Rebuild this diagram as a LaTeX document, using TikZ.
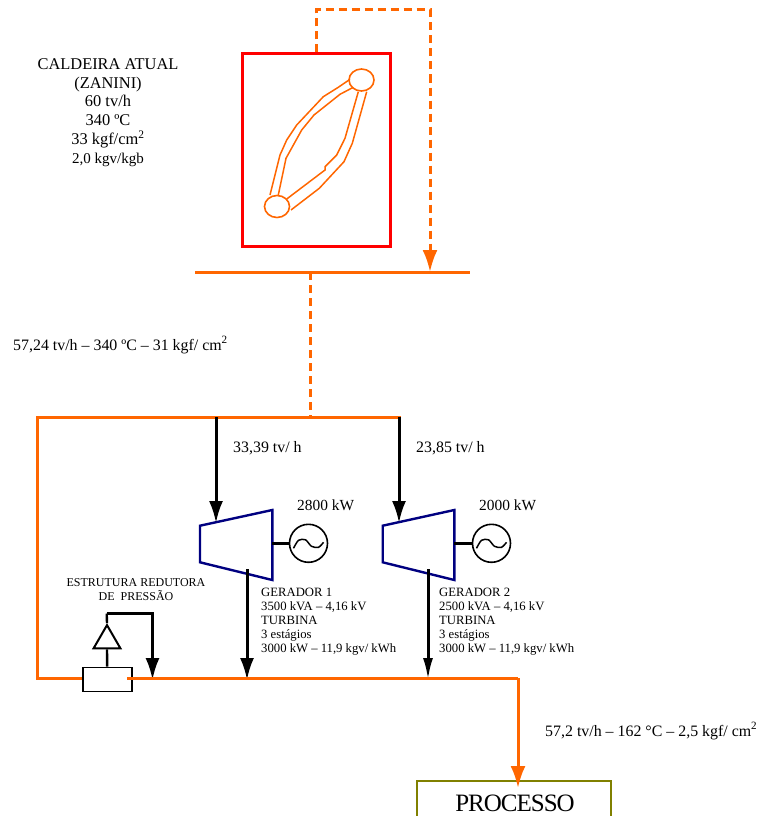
\documentclass[tikz,border=0pt]{standalone}
\usepackage{fontspec}
\setmainfont{Liberation Serif}
\usetikzlibrary{positioning, shapes.geometric, arrows.meta}
\definecolor{stmorange}{HTML}{FF6600}
\definecolor{blrred}{HTML}{FF0000}
\definecolor{turbnavy}{HTML}{000080}
\definecolor{procolive}{HTML}{808000}
\tikzset{
  stmline/.style={stmorange, line width=3pt},
  stmdash/.style={stmline, dash pattern=on 8pt off 5pt},
  stmarrow/.style={-{Latex[length=22pt,width=15pt]}},
  blkarrow/.style={black, line width=3pt, -{Latex[length=22pt,width=14pt]}},
  tube/.style={stmorange, line width=1.5pt},
  drum/.style={draw=stmorange, line width=1.6pt, ellipse, minimum width=25pt, minimum height=22pt, inner sep=0pt},
  turb/.style={turbnavy, line width=2.4pt},
  gen/.style={draw=black, line width=1.6pt, circle, minimum size=38pt, inner sep=0pt},
  lbl/.style={inner sep=0pt, font=\fontsize{15.9}{16}\selectfont},
  smalllbl/.style={inner sep=0pt, align=left, anchor=north west, font=\fontsize{12.7}{14}\selectfont},
}
\begin{document}
\begin{tikzpicture}[x=1pt, y=-1pt]
  \useasboundingbox (0,0) rectangle (760,816);

  % caldeira
  \node[draw=blrred, line width=3pt, minimum width=148pt, minimum height=192pt, inner sep=0pt] (boiler) at (316,150) {};
  \node[drum] (upperdrum) at (361.5,80) {};
  \node[drum] (lowerdrum) at (277,206.5) {};
  \draw[tube] (270,195) -- (280,155) -- (286.7,140) -- (296.7,125) -- (323.3,96.7) -- (338.3,87.3) -- (350,79.3);
  \draw[tube] (278.3,195) -- (286,158.3) -- (301.7,130) -- (314,115) -- (340,94.3) -- (353.3,87.3);
  \draw[tube] (366.7,91.7) -- (352.3,143.3) -- (344,161.7) -- (319.3,188.3) -- (291,210);
  \draw[tube] (358.3,91.7) -- (345,138.3) -- (336.7,155) -- (325,166.7) -- (325,170) -- (286.7,199);
  \node[lbl, align=center, font=\fontsize{16.4}{18.8}\selectfont] (boilertxt) at (108,112.5) {CALDEIRA ATUAL\\(ZANINI)\\60 tv/h\\340 ºC\\33 kgf/cm\textsuperscript{2}\\{\fontsize{15}{18.8}\selectfont 2,0 kgv/kgb}};

  % coletores
  \coordinate (hp1) at (195,272);
  \coordinate (hp2) at (470,272);
  \coordinate (hpin) at (430,272);
  \coordinate (hpout) at (310,272);
  \coordinate (top1) at (37,417);
  \coordinate (top2) at (401,417);
  \coordinate (topin) at (310,417);
  \coordinate (low1) at (36,678);
  \coordinate (low2) at (518,678);
  \coordinate (t1in) at (216,523);
  \coordinate (t2in) at (399,523);
  \coordinate (t1top) at (216,417);
  \coordinate (t2top) at (399,417);
  \coordinate (t1out) at (247,569);
  \coordinate (t2out) at (428,569);
  \coordinate (t1low) at (247,680);
  \coordinate (t2low) at (428,680);
  \coordinate (t1sh) at (272,543.3);
  \coordinate (t2sh) at (454,543.3);
  \coordinate (prv1) at (106.7,613.5);
  \coordinate (prv2) at (152.5,613.5);
  \coordinate (prvlow) at (152.5,680);

  \draw[stmline] (hp1) -- (hp2);
  \draw[stmdash, stmarrow] (boiler.north) -- (316,10) -- (430,10) -- (hpin);
  \draw[stmdash] (hpout) -- (topin);
  \node[lbl, anchor=west] (hplbl) at (13,345) {57,24 tv/h -- 340 ºC -- 31 kgf/ cm\textsuperscript{2}};
  \draw[stmline] (37,678) -- (top1) -- (top2);

  % turbinas
  \draw[turb] (200,525.7) -- (272.3,510) -- (272.3,580) -- (200,562.3) -- cycle;
  \draw[turb] (382.7,525.7) -- (454.3,510) -- (454.3,580) -- (382.7,562.3) -- cycle;
  \node[gen] (gen1) at (308.5,543.3) {};
  \node[gen] (gen2) at (491.5,543.3) {};
  \draw[black, line width=2.4pt] (t1sh) -- (gen1);
  \draw[black, line width=2.4pt] (t2sh) -- (gen2);
  \foreach \g in {gen1, gen2}
    \draw[black, line width=1.5pt, shift={(\g)}] plot[smooth] coordinates {(-15,5) (-10,-3) (-3,-3.5) (3,3) (10,4) (15,-1)};
  \draw[blkarrow] (t1top) -- (t1in);
  \draw[blkarrow] (t2top) -- (t2in);
  \draw[blkarrow] (t1out) -- (t1low);
  \draw[blkarrow, -{Latex[length=22pt,width=10pt]}] (t2out) -- (t2low);
  \node[lbl, anchor=west] (flow1) at (233,448) {33,39 tv/ h};
  \node[lbl, anchor=west] (flow2) at (416,448) {23,85 tv/ h};
  \node[lbl, anchor=west, font=\fontsize{15.4}{16}\selectfont] (pow1) at (297,505) {2800 kW};
  \node[lbl, anchor=west, font=\fontsize{15.4}{16}\selectfont] (pow2) at (479,505) {2000 kW};
  \node[smalllbl] (gen1txt) at (261,588) {GERADOR 1\\3500 kVA -- 4,16 kV\\TURBINA\\3 estágios\\3000 kW -- 11,9 kgv/ kWh};
  \node[smalllbl] (gen2txt) at (439,588) {GERADOR 2\\2500 kVA -- 4,16 kV\\TURBINA\\3 estágios\\3000 kW -- 11,9 kgv/ kWh};

  % redutora
  \node[draw=black, line width=1.6pt, fill=white, minimum width=49pt, minimum height=24pt, inner sep=0pt] (valve) at (107.2,679.5) {};
  \node[draw=black, line width=2pt, fill=white, regular polygon, regular polygon sides=3, minimum size=31pt, inner sep=0pt] (redtri) at (107,640.6) {};
  \draw[black, line width=2.4pt] (valve.north) -- (redtri.south);
  \draw[black, line width=2.4pt] (redtri.north) -- (prv1);
  \draw[blkarrow] (prv1) -- (prv2) -- (prvlow);
  \draw[stmline] (low1) -- (low1 -| valve.west);
  \draw[stmline] (127,678) -- (low2);
  \node[inner sep=0pt, align=center, font=\fontsize{12}{14}\selectfont] (prvtxt) at (136,590) {ESTRUTURA REDUTORA\\DE\ \ PRESSÃO};

  % processo
  \node[draw=procolive, line width=1.6pt, minimum width=194pt, minimum height=44pt, inner sep=0pt, font=\fontsize{25}{25}\selectfont] (process) at (514,803) {\hspace{2pt}\addfontfeature{LetterSpace=-4}PROCESSO};
  \draw[stmline, stmarrow] (low2) -- (518,788);
  \node[lbl, anchor=west] (prclbl) at (545,731) {57,2 tv/h -- 162 °C -- 2,5 kgf/ cm\textsuperscript{2}};
\end{tikzpicture}
\end{document}
